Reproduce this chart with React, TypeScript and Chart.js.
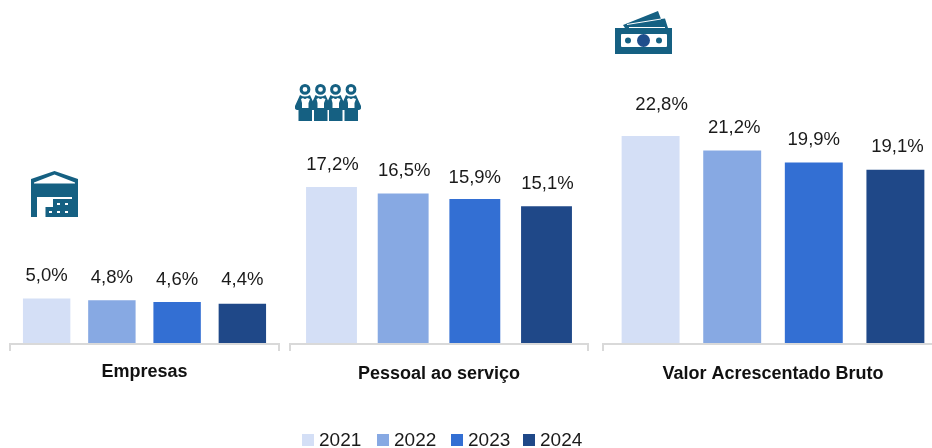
import React, { useEffect, useRef } from "react";
import { Chart, registerables } from "chart.js";

Chart.register(...registerables);

const years = ["2021", "2022", "2023", "2024"];
const colors = ["#D4DFF6", "#87A9E3", "#336FD3", "#1F4888"];
const groupNames = ["Empresas", "Pessoal ao serviço", "Valor Acrescentado Bruto"];
const empresas = [5.0, 4.8, 4.6, 4.4];
const pessoal = [17.2, 16.5, 15.9, 15.1];
const vab = [22.8, 21.2, 19.9, 19.1];

const FONT = '"Liberation Sans", Arial, sans-serif';
const ICON = "#156082";

const panels = [
  { name: groupNames[0], values: empresas, left: 10, width: 269, cat: 0.97, bar: 0.727, labelPad: 10, shift: [[0, 0], [0, 0], [0, 0], [0, -1]] },
  { name: groupNames[1], values: pessoal, left: 290, width: 298, cat: 0.962, bar: 0.71, labelPad: 12, shift: [[1, 0], [1, 0], [0, 1], [1, 0]] },
  { name: groupNames[2], values: vab, left: 603, width: 340, cat: 0.96, bar: 0.71, labelPad: 12, shift: [[11, -9], [2, 0], [0, 0], [2, 0]] },
];

const valueLabels = {
  id: "valueLabels",
  afterDatasetsDraw(chart: any, _a: any, opts: any) {
    const { ctx } = chart;
    ctx.save();
    ctx.font = `18.5px ${FONT}`;
    ctx.fillStyle = "#1a1a1a";
    ctx.textAlign = "center";
    ctx.textBaseline = "middle";
    chart.data.datasets.forEach((ds: any, i: number) => {
      const el = chart.getDatasetMeta(i).data[0];
      const [dx, dy] = opts.shift[i];
      ctx.fillText(ds.data[0].toFixed(1).replace(".", ",") + "%", el.x + dx, el.y - 22.5 + dy);
    });
    ctx.restore();
  },
};

function Panel({ p }: { p: (typeof panels)[number] }) {
  const ref = useRef<HTMLCanvasElement>(null);
  useEffect(() => {
    const chart = new Chart(ref.current!, {
      type: "bar",
      data: {
        labels: [p.name],
        datasets: years.map((y, i) => ({
          label: y,
          data: [p.values[i]],
          backgroundColor: colors[i],
          categoryPercentage: p.cat,
          barPercentage: p.bar,
        })),
      },
      options: {
        responsive: false,
        animation: false,
        layout: { padding: { left: 4, right: 4, top: 0, bottom: 0 } },
        plugins: {
          legend: { display: false },
          tooltip: { enabled: false },
          valueLabels: { shift: p.shift },
        } as any,
        scales: {
          y: { display: false, min: 0, max: 37.7 },
          x: {
            afterFit: (s: any) => { s.height = 104; },
            border: { display: true, color: "#D9D9D9", width: 2, z: 1 },
            grid: { offset: true, drawOnChartArea: false, drawTicks: true, color: "#D9D9D9", lineWidth: 2, tickLength: 7 },
            ticks: { color: "#111", padding: p.labelPad, maxRotation: 0, font: { family: FONT, size: 18, weight: "bold" } },
          },
        },
      },
      plugins: [valueLabels],
    });
    return () => chart.destroy();
  }, []);
  return (
    <canvas
      ref={ref}
      width={p.width + 8}
      height={448}
      style={{ position: "absolute", left: p.left - 4, top: 0, width: p.width + 8, height: 448 }}
    />
  );
}

const abs = (left: number, top: number, width: number, height: number): React.CSSProperties => ({
  position: "absolute", left, top, width, height,
});

function Warehouse() {
  return (
    <svg style={abs(31, 171, 47, 46)} viewBox="0 0 47 46">
      <path fill={ICON} d="M0 8 L23.5 0 L47 8 V46 H0 Z" />
      <path fill="#fff" d="M3 11.5 L23.5 3.5 L44 11.5 V12.5 H3 Z" />
      <path fill="#fff" d="M6 26 H41 V46 H6 Z" />
      <path fill={ICON} d="M14.5 46 V36 H22 V28 H41 V46 Z" />
      <path fill="#fff" d="M26 32 h3 v2 h-3z M34 32 h3 v2 h-3z M18 40 h3 v2 h-3z M26 40 h3 v2 h-3z M34 40 h3 v2 h-3z" />
    </svg>
  );
}

function People() {
  return (
    <svg style={abs(295, 84, 66, 37)} viewBox="0 0 66 37">
      {[0, 15.5, 30.5, 46].map((x) => (
        <g key={x} transform={`translate(${x} 0)`}>
          <circle cx="10" cy="5.4" r="3.9" fill="none" stroke={ICON} strokeWidth="3" />
          <path fill={ICON} d="M5 11 Q10 14 15 11 L20 22 Q21 25 18 26 H17 V37 H3.5 V26 H2 Q-1 25 0 22 Z" />
          <path fill="#fff" d="M6 15 L8 14 Q10 16 12 14 L15 15 L13.5 19 V24 H7 V19 Z" />
        </g>
      ))}
    </svg>
  );
}

function Money() {
  return (
    <svg style={abs(615, 11, 57, 43)} viewBox="0 0 57 43">
      <path fill={ICON} d="M8 14 L43 0 L46 8 L50 7.5 L53 17 H10 Z" />
      <path fill="none" stroke="#fff" strokeWidth="1" d="M12 13.5 L46 8 M14 16.5 H50" />
      <rect x="0" y="17" width="57" height="26" fill={ICON} />
      <rect x="6" y="23" width="46" height="13" rx="1" fill="#fff" />
      <circle cx="13" cy="29.5" r="3" fill={ICON} />
      <circle cx="44" cy="29.5" r="3" fill={ICON} />
      <circle cx="28.5" cy="29.5" r="6.5" fill="#1F4E8C" />
    </svg>
  );
}

const legendLeft = [302, 377, 451, 523];

export default function App() {
  return (
    <div style={{ position: "fixed", left: 0, top: 0, width: 932, height: 448, overflow: "hidden", background: "#fff" }}>
      {panels.map((p) => <Panel key={p.name} p={p} />)}
      <Warehouse />
      <People />
      <Money />
      {years.map((y, i) => (
        <React.Fragment key={y}>
          <div style={{ ...abs(legendLeft[i], 434, 12, 12), background: colors[i] }} />
          <div style={{ position: "absolute", left: legendLeft[i] + 17, top: 429, font: `19px/22px ${FONT}`, color: "#1a1a1a" }}>{y}</div>
        </React.Fragment>
      ))}
    </div>
  );
}
